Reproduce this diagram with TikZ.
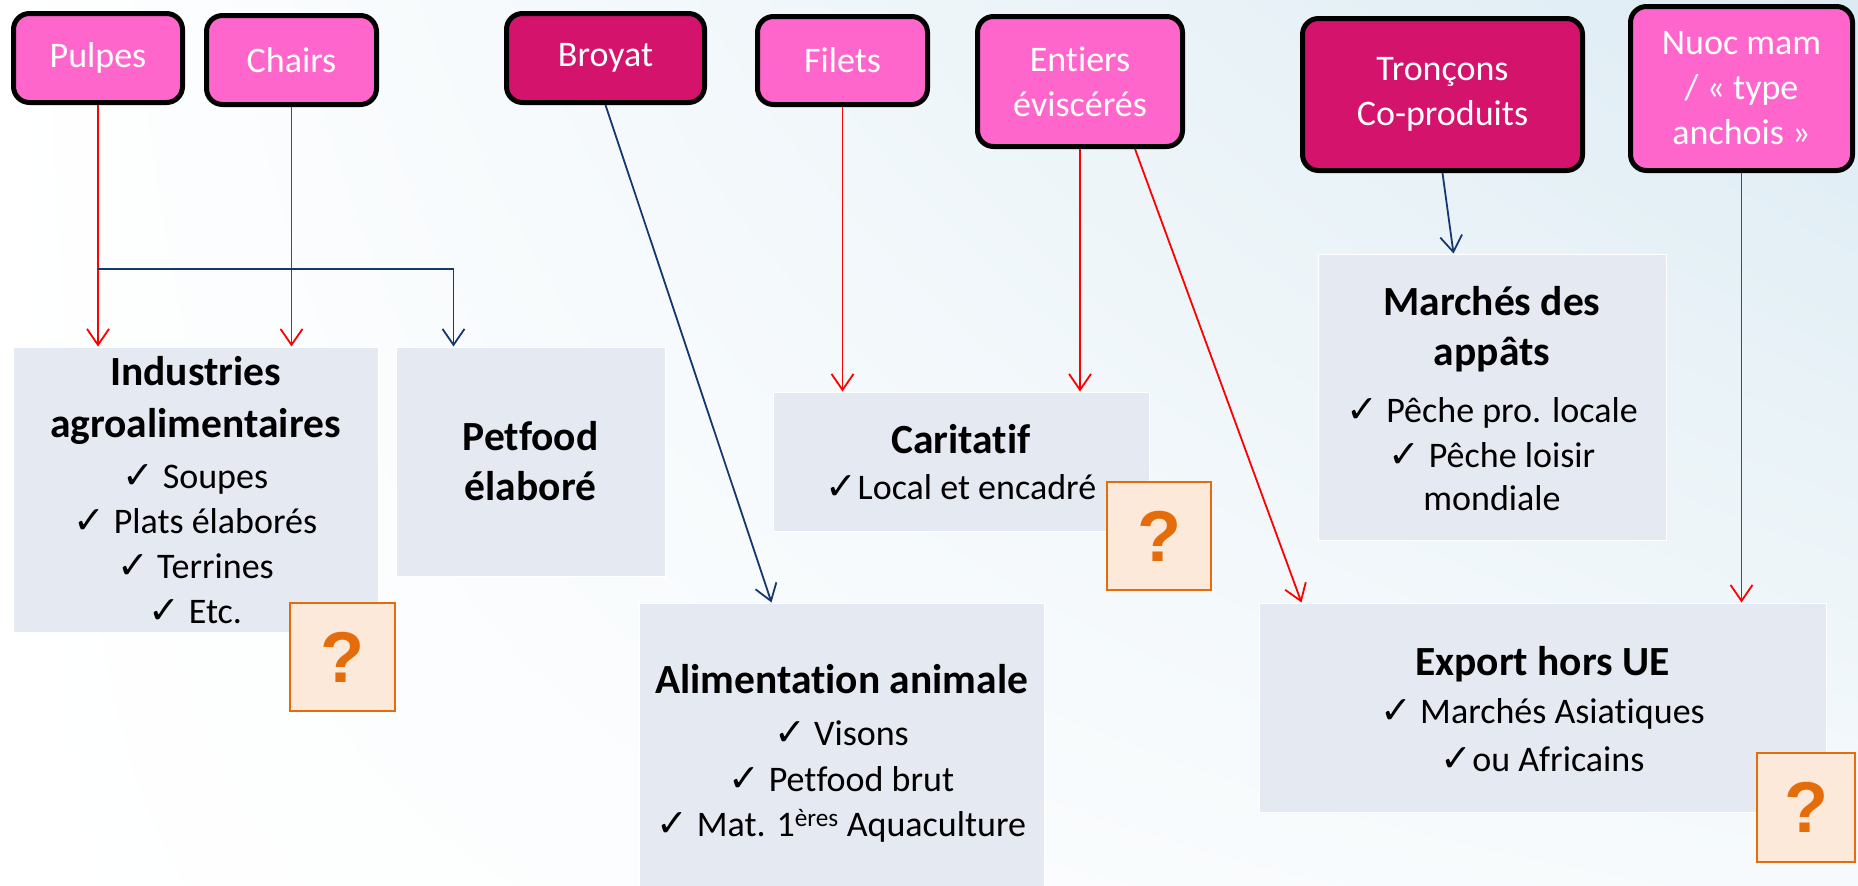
\documentclass[tikz,border=0pt]{standalone}
\usepackage{fontspec}
\setmainfont{Carlito}[Ligatures={NoCommon}]
\newfontfamily\chkfont{DejaVu Sans}
\newfontfamily\qfont{Liberation Sans}
\usetikzlibrary{arrows.meta,shadings}
\definecolor{pinkbox}{RGB}{255,102,204}
\definecolor{darkbox}{RGB}{212,20,108}
\definecolor{lightbox}{RGB}{229,233,242}
\definecolor{qfill}{RGB}{253,233,217}
\definecolor{qorange}{RGB}{228,108,10}
\definecolor{navy}{RGB}{23,55,110}
\definecolor{bgtr}{RGB}{220,235,243}
\definecolor{bgbr}{RGB}{246,250,252}
\newcommand{\ck}{{\chkfont\bfseries\fontsize{38}{38}\selectfont ✓}}
\newcommand{\ttl}{\fontsize{41.5}{50}\selectfont\bfseries}
\begin{document}
\begin{tikzpicture}[x=1pt,y=-1pt,
  src/.style={draw=black, line width=5pt, rounded corners=16pt, text=white, align=center,
    font=\fontsize{36}{45}\selectfont, inner sep=0pt},
  pinksrc/.style={src, fill=pinkbox},
  darksrc/.style={src, fill=darkbox},
  dst/.style={fill=lightbox, draw=white, line width=1pt, inner sep=0pt},
  txt/.style={anchor=base, inner sep=0pt, font=\fontsize{36}{45}\selectfont},
  qbox/.style={fill=qfill, draw=qorange, line width=2pt, text=qorange, inner sep=0pt,
    font=\qfont\bfseries\fontsize{72}{72}\selectfont},
  redarr/.style={draw=red, line width=1.8pt, -{Straight Barb[length=16pt,width=22pt]}},
  bluearr/.style={draw=navy, line width=1.8pt, -{Straight Barb[length=16pt,width=22pt]}}
]
\useasboundingbox (0,0) rectangle (1858,886);
\shade[upper left=white, lower left=white, upper right=bgtr, lower right=bgbr] (0,0) rectangle (1858,886);

% destination boxes
\node[dst, minimum width=365pt, minimum height=285pt] (ind) at (195.5,489.5) {};
\node[dst, minimum width=269pt, minimum height=229pt] (petfood) at (530.5,461.5) {};
\node[dst, minimum width=405pt, minimum height=283pt] (ali) at (841.5,744.5) {};
\node[dst, minimum width=376pt, minimum height=139pt] (cari) at (961,461.5) {};
\node[dst, minimum width=348pt, minimum height=286pt] (march) at (1492,397) {};
\node[dst, minimum width=567pt, minimum height=209pt] (export) at (1542.5,707.5) {};

% texts of destination boxes
\node[txt] (indT) at (195.5,385) {\begin{tabular}[t]{@{}c@{}}{\ttl Industries}\\[7pt]
  {\ttl agroalimentaires}\\[6pt]
  \ck{} Soupes\\ \ck{} Plats élaborés\\ \ck{} Terrines\\ \ck{} Etc.\end{tabular}};
\node[txt] (petfoodT) at (530.5,450) {\begin{tabular}[t]{@{}c@{}}{\ttl Petfood}\\[5pt]
  {\ttl élaboré}\end{tabular}};
\node[txt] (aliT) at (841.5,693) {\begin{tabular}[t]{@{}c@{}}{\ttl Alimentation animale}\\[7pt]
  \ck{} Visons\\[1pt] \ck{} Petfood brut\\ \ck{} Mat. 1\textsuperscript{ères} Aquaculture\end{tabular}};
\node[txt] (cariT) at (961,453) {\begin{tabular}[t]{@{}c@{}}{\ttl Caritatif}\\[1pt]
  \ck Local et encadré\end{tabular}};
\node[txt] (marchT) at (1492,315) {\begin{tabular}[t]{@{}c@{}}{\ttl Marchés des}\\[5pt]
  {\ttl appâts}\\[12pt] \ck{} Pêche pro. locale\\ \ck{} Pêche loisir\\[-2pt] mondiale\end{tabular}};
\node[txt] (exportT) at (1542.5,675) {\begin{tabular}[t]{@{}c@{}}{\ttl Export hors UE}\\[3pt]
  \ck{} Marchés Asiatiques\\[3pt] \ck ou Africains\end{tabular}};

% source boxes
\node[pinksrc, minimum width=169pt, minimum height=89pt] (pulpes) at (98,58) {Pulpes};
\node[pinksrc, minimum width=170pt, minimum height=89pt] (chairs) at (291.5,60) {Chairs};
\node[darksrc, minimum width=198pt, minimum height=89pt] (broyat) at (605.5,58) {Broyat};
\node[pinksrc, minimum width=170pt, minimum height=88pt] (filets) at (842.5,60.5) {Filets};
\node[pinksrc, minimum width=205pt, minimum height=130pt] (entiers) at (1080,81.5) {Entiers\\éviscérés};
\node[darksrc, minimum width=280pt, minimum height=152pt] (troncons) at (1442.5,94.5) {Tronçons\\Co-produits};
\node[pinksrc, minimum width=222pt, minimum height=164pt] (nuoc) at (1741.5,88.5) {Nuoc mam\\/ « type\\anchois »};

% connectors
\path (pulpes.south) ++(0,164) coordinate (jn);
\draw[redarr] (pulpes.south) -- (pulpes.south |- ind.north);
\draw[redarr] (chairs.south) -- (chairs.south |- ind.north);
\draw[bluearr] (jn) -| ([xshift=58pt]petfood.north west);
\draw[bluearr] (broyat.south) -- ([xshift=133pt]ali.north west);
\draw[redarr] (filets.south) -- (filets.south |- cari.north);
\draw[redarr] (entiers.south) -- (entiers.south |- cari.north);
\draw[redarr] ([xshift=55pt]entiers.south) -- ([xshift=43pt]export.north west);
\draw[bluearr] (troncons.south) -- ([xshift=136pt]march.north west);
\draw[redarr] (nuoc.south) -- (nuoc.south |- export.north);

% question boxes
\node[qbox, minimum width=105pt, minimum height=108pt] (q1) at (342.5,657) {?};
\node[qbox, minimum width=104pt, minimum height=108pt] (q2) at (1159,536) {?};
\node[qbox, minimum width=98pt, minimum height=109pt] (q3) at (1806,807.5) {?};
\end{tikzpicture}
\end{document}
